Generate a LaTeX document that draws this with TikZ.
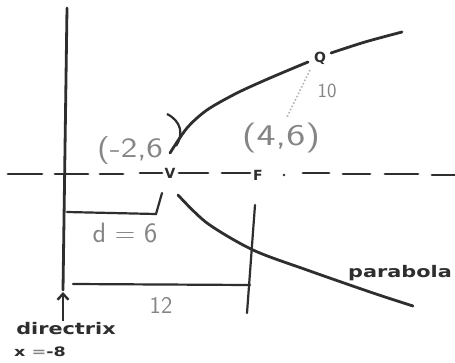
\documentclass[tikz,border=0pt]{standalone}
\usepackage{fontspec}
\newfontfamily\lblfont{DejaVu Sans}
\usetikzlibrary{arrows.meta}
\definecolor{inkc}{HTML}{2E2E2E}
\definecolor{handc}{HTML}{858585}
\begin{document}
\begin{tikzpicture}[x=1pt,y=-1pt,
  ink/.style={draw=inkc, line width=2.8pt, line cap=round},
  thinink/.style={draw=inkc, line width=2.2pt, line cap=round},
  hand/.style={text=handc, font=\sffamily\fontsize{#1}{#1}\selectfont, inner sep=0pt},
  lbl/.style={text=inkc, font=\lblfont\bfseries\fontsize{16}{16}\selectfont, inner sep=0pt, xscale=1.3},
  ptlbl/.style={text=inkc, font=\lblfont\bfseries\fontsize{14}{14}\selectfont, inner sep=0.5pt}]
\useasboundingbox (0,0) rectangle (455,362);
\fill[white] (0,0) rectangle (455,362);

% points
\node[ptlbl] (V) at (170,173) {V};
\node[ptlbl] (F) at (258,175) {F};
\node[ptlbl] (Q) at (320,58) {Q};

% axis of symmetry (dashed)
\foreach \a/\b/\y in {8/42/174, 55/88/174, 100/123/174, 140/162/173, 179/208/173, 222/250/173, 303/329/173, 343/370/174, 385/418/174, 432/455/175}
  \draw[ink] (\a,\y) -- (\b,\y);
\fill[inkc] (284,175) circle (1.3pt);

% directrix
\coordinate (dtop) at (67,8);
\coordinate (dbot) at (63,290);
\draw[ink] (dtop) -- (dbot);

% parabola
\coordinate (u0) at (170,153);
\draw[ink] plot[smooth] coordinates {(u0) (187,128) (207,110) (237,93) (270,78) (308,62)};
\coordinate (u1) at (331,53);
\coordinate (u2) at (402,32);
\draw[ink] plot[smooth] coordinates {(u1) (365,42) (u2)};
\coordinate (l0) at (178,195);
\coordinate (l1) at (413,306);
\draw[ink] plot[smooth] coordinates {(l0) (207,223) (253,250) (307,270) (373,293) (l1)};

% d = 6 bracket
\coordinate (da) at (67,212);
\coordinate (db) at (156,214);
\coordinate (dc) at (162,193);
\draw[thinink] (da) -- (db) -- (dc);

% 12 bracket
\coordinate (ta) at (73,284);
\coordinate (tb) at (250,285);
\draw[thinink] (ta) -- (tb);
\coordinate (fa) at (255,205);
\coordinate (fb) at (247,313);
\draw[thinink] (fa) -- (fb);

% focus-to-Q distance (dotted)
\coordinate (qa) at (310,70);
\coordinate (qb) at (287,117);
\draw[handc!60, line width=1.6pt, dotted] (qa) -- (qb);

% closing parenthesis stroke near vertex
\coordinate (pa) at (167,114);
\coordinate (pb) at (176,146);
\draw[inkc, line width=2.2pt] (pa) .. controls (181,121) and (184,134) .. (pb);

% handwritten labels
\node[hand=28, xscale=1.25] (vlab) at (130,151) {(-2,6};
\node[hand=30, xscale=1.35] (flab) at (281,138) {(4,6)};
\node[hand=20] (ten) at (327,91) {10};
\node[hand=28] (dlab) at (125,233) {d = 6};
\node[hand=24] (twelve) at (161,305) {12};

% printed labels
\node[lbl] (par) at (400,273) {parabola};
\node[lbl] (dir) at (66,329) {directrix};
\node[text=inkc, font=\lblfont\bfseries\fontsize{13}{13}\selectfont, inner sep=0pt, xscale=1.35] (xeq) at (40,352) {x {\color{handc}=}-8};
\coordinate (arrtop) at (63,292);
\draw[inkc, line width=2.4pt, -{Straight Barb[length=6pt,width=11pt]}] (dir.north -| arrtop) ++(0,-2) -- (arrtop);
\end{tikzpicture}
\end{document}
